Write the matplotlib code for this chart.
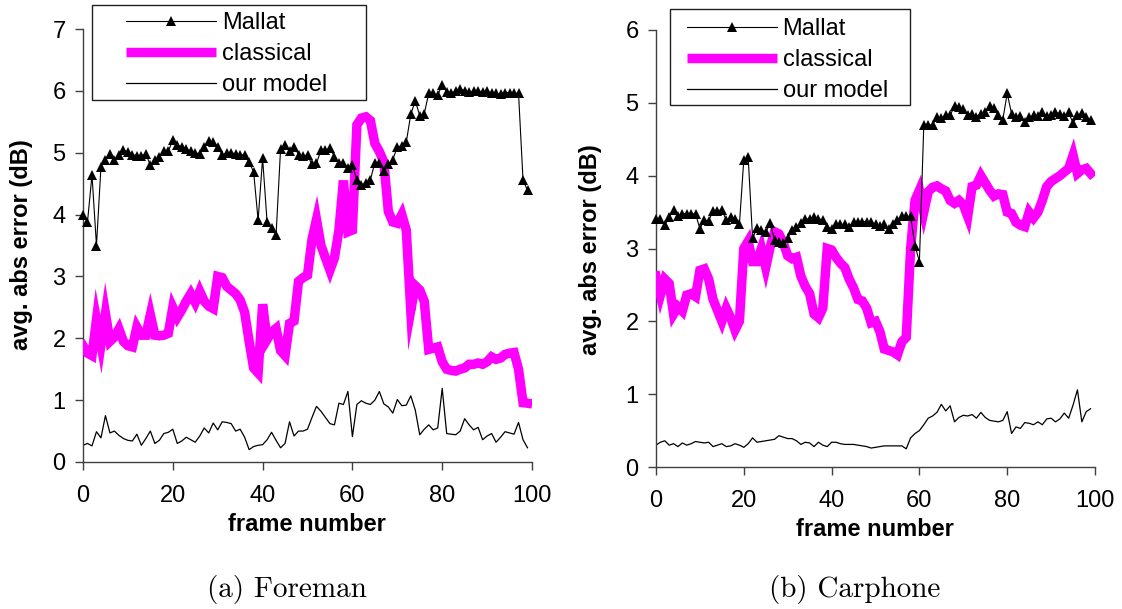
import matplotlib
matplotlib.use("Agg")
import matplotlib.pyplot as plt
from matplotlib.patches import Rectangle
from matplotlib.lines import Line2D

plt.rcParams['font.family'] = ['Liberation Sans', 'DejaVu Sans']

frames = list(range(100))

# ---------------- (a) Foreman ----------------
foreman_mallat = [
    4.0, 3.88, 4.64, 3.5, 4.77, 4.88, 4.98, 4.89, 4.96, 5.04,
    5.01, 4.97, 4.95, 4.95, 4.98, 4.8, 4.88, 4.93, 5.03, 5.02,
    5.21, 5.12, 5.1, 5.06, 5.02, 5.0, 4.98, 5.1, 5.19, 5.17,
    5.1, 4.96, 5.0, 5.0, 4.98, 4.96, 4.97, 4.85, 4.69, 3.91,
    4.91, 3.88, 3.78, 3.67, 5.06, 5.12, 5.02, 5.1, 4.97, 4.95,
    4.96, 4.81, 4.83, 5.04, 5.04, 5.08, 4.93, 4.83, 4.83, 4.76,
    4.8, 4.56, 4.48, 4.51, 4.56, 4.84, 4.84, 4.71, 4.81, 4.89,
    5.09, 5.11, 5.17, 5.62, 5.84, 5.6, 5.63, 5.96, 5.96, 5.93,
    6.1, 5.98, 5.96, 6.0, 6.03, 6.0, 5.98, 5.99, 6.0, 5.98,
    5.99, 5.97, 5.96, 5.95, 5.97, 5.97, 5.96, 5.96, 4.56, 4.39]
foreman_classical = [
    1.88, 1.76, 1.72, 2.3, 1.9, 2.4, 1.95, 2.02, 2.15, 1.95,
    1.88, 1.86, 2.18, 2.05, 2.05, 2.38, 2.05, 2.04, 2.05, 2.08,
    2.5, 2.34, 2.46, 2.6, 2.72, 2.58, 2.76, 2.6, 2.52, 2.48,
    3.0, 2.98, 2.84, 2.78, 2.72, 2.62, 2.42, 1.95, 1.52, 1.44,
    2.55, 1.98, 2.1, 2.16, 1.8, 1.72, 2.24, 2.28, 2.92, 2.98,
    3.02, 3.6, 3.92, 3.5, 3.3, 3.1, 3.3, 3.75, 4.55, 3.72,
    3.75, 5.45, 5.56, 5.58, 5.52, 5.15, 5.02, 4.85, 4.05, 3.88,
    3.86, 4.0, 3.75, 2.45, 2.85, 2.78, 2.6, 1.82, 1.84, 1.86,
    1.62, 1.5, 1.48, 1.47, 1.5, 1.52, 1.58, 1.58, 1.6, 1.58,
    1.62, 1.7, 1.66, 1.68, 1.74, 1.76, 1.77, 1.5, 0.96, 0.95]
foreman_ours = [
    0.27, 0.3, 0.26, 0.49, 0.39, 0.75, 0.47, 0.5, 0.43, 0.38,
    0.35, 0.34, 0.45, 0.27, 0.38, 0.5, 0.3, 0.35, 0.46, 0.48,
    0.53, 0.3, 0.34, 0.4, 0.36, 0.32, 0.42, 0.55, 0.47, 0.63,
    0.52, 0.65, 0.64, 0.62, 0.5, 0.53, 0.4, 0.2, 0.25, 0.27,
    0.28, 0.36, 0.48, 0.35, 0.23, 0.3, 0.65, 0.42, 0.5, 0.5,
    0.53, 0.72, 0.9, 0.82, 0.72, 0.62, 0.6, 0.95, 0.93, 1.14,
    0.41, 0.93, 0.99, 0.95, 0.93, 1.0, 1.14, 0.94, 0.89, 0.79,
    1.01, 0.91, 0.92, 1.07, 0.84, 0.44, 0.53, 0.6, 0.52, 0.55,
    1.19, 0.46, 0.45, 0.44, 0.5, 0.7, 0.6, 0.52, 0.56, 0.36,
    0.42, 0.46, 0.32, 0.4, 0.49, 0.47, 0.45, 0.64, 0.36, 0.23]

# ---------------- (b) Carphone ----------------
carphone_mallat = [
    3.41, 3.41, 3.32, 3.43, 3.53, 3.44, 3.48, 3.48, 3.47, 3.48,
    3.27, 3.39, 3.38, 3.52, 3.52, 3.53, 3.39, 3.43, 3.41, 3.33,
    4.22, 4.25, 3.14, 3.28, 3.26, 3.22, 3.35, 3.12, 3.09, 3.08,
    3.14, 3.26, 3.3, 3.35, 3.4, 3.41, 3.43, 3.41, 3.39, 3.3,
    3.27, 3.33, 3.33, 3.33, 3.3, 3.37, 3.37, 3.37, 3.37, 3.36,
    3.33, 3.31, 3.33, 3.27, 3.34, 3.39, 3.44, 3.44, 3.44, 3.04,
    2.82, 4.69, 4.69, 4.7, 4.8, 4.79, 4.83, 4.83, 4.95, 4.94,
    4.91, 4.83, 4.85, 4.81, 4.85, 4.87, 4.95, 4.93, 4.83, 4.77,
    5.13, 4.85, 4.8, 4.82, 4.74, 4.8, 4.83, 4.82, 4.87, 4.82,
    4.83, 4.87, 4.85, 4.82, 4.87, 4.72, 4.83, 4.86, 4.81, 4.76]
carphone_classical = [
    2.62, 2.36, 2.58, 2.52, 2.1, 2.2, 2.14, 2.36, 2.38, 2.34,
    2.7, 2.72, 2.58, 2.3, 2.15, 2.0, 2.18, 2.05, 1.88, 2.0,
    3.0, 3.1, 2.82, 2.82, 3.0, 2.74, 3.02, 3.23, 3.2, 3.08,
    2.9, 2.86, 2.88, 2.62, 2.48, 2.38, 2.1, 2.05, 2.18, 3.0,
    2.98, 2.88, 2.8, 2.74, 2.58, 2.46, 2.3, 2.28, 2.18, 1.98,
    2.0, 1.86, 1.62, 1.6, 1.58, 1.54, 1.72, 1.78, 3.0, 3.66,
    3.8, 3.5, 3.78, 3.84, 3.86, 3.82, 3.79, 3.66, 3.62, 3.66,
    3.6, 3.44, 3.85, 3.87, 4.0, 3.9, 3.8, 3.72, 3.75, 3.74,
    3.5, 3.48, 3.36, 3.32, 3.3, 3.5, 3.42, 3.5, 3.66, 3.85,
    3.92, 3.96, 4.0, 4.05, 4.1, 4.28, 4.03, 4.08, 4.1, 4.03]
carphone_ours = [
    0.3, 0.34, 0.36, 0.3, 0.32, 0.28, 0.33, 0.3, 0.32, 0.35,
    0.34, 0.33, 0.34, 0.28, 0.3, 0.32, 0.28, 0.29, 0.32, 0.3,
    0.27, 0.32, 0.4, 0.34, 0.35, 0.36, 0.37, 0.38, 0.43, 0.41,
    0.39, 0.39, 0.36, 0.31, 0.34, 0.33, 0.28, 0.34, 0.3, 0.28,
    0.34, 0.34, 0.32, 0.31, 0.31, 0.31, 0.3, 0.29, 0.28, 0.26,
    0.27, 0.28, 0.29, 0.29, 0.29, 0.29, 0.29, 0.25, 0.4, 0.46,
    0.5, 0.58, 0.67, 0.7, 0.75, 0.86, 0.77, 0.84, 0.62, 0.68,
    0.71, 0.7, 0.72, 0.67, 0.75, 0.68, 0.64, 0.63, 0.62, 0.64,
    0.76, 0.46, 0.55, 0.53, 0.61, 0.6, 0.58, 0.62, 0.58, 0.66,
    0.67, 0.62, 0.66, 0.74, 0.67, 0.85, 1.06, 0.62, 0.76, 0.8]

series_labels = ["Mallat", "classical", "our model"]
xticks = [0, 20, 40, 60, 80, 100]
yticks_a = [0, 1, 2, 3, 4, 5, 6, 7]
yticks_b = [0, 1, 2, 3, 4, 5, 6]
xlabel = "frame number"
ylabel = "avg. abs error (dB)"
captions = ["(a) Foreman", "(b) Carphone"]

W, H = 1122, 609
fig = plt.figure(figsize=(W / 100, H / 100), dpi=100)


def fx(px):
    return px / W


def fy(py):
    return 1 - py / H


MAG = '#FF00FF'
SPINE = '#404040'
FS = 17


def make_panel(box, mallat, classical, ours, ylim, yticks, legend_rect, legend_anchor,
               ylab_pos, xlab_pos, caption, cap_x):
    l, t, r, b = box
    ax = fig.add_axes([fx(l), fy(b), fx(r) - fx(l), fy(t) - fy(b)])
    ax.plot(frames, ours, color='black', lw=0.9, zorder=2)
    ax.plot(frames, classical, color=MAG, lw=6.8, solid_joinstyle='miter', zorder=3)
    ax.plot(frames, mallat, color='black', lw=0.8, marker='^', markersize=7.5,
            markeredgewidth=0, zorder=4, clip_on=False)
    ax.set_xlim(0, 100)
    ax.set_ylim(*ylim)
    ax.set_xticks(xticks)
    ax.set_yticks(yticks)
    for s in ['top', 'right']:
        ax.spines[s].set_visible(False)
    for s in ['left', 'bottom']:
        ax.spines[s].set_color(SPINE)
        ax.spines[s].set_linewidth(1.0)
    ax.tick_params(axis='both', direction='out', length=5.5, width=1.0, color=SPINE,
                   labelsize=FS)
    ax.tick_params(axis='x', pad=11)
    ax.tick_params(axis='y', pad=7)
    ax.set_xlabel(xlabel, fontsize=FS, fontweight='bold')
    ax.set_ylabel(ylabel, fontsize=FS, fontweight='bold')
    ax.xaxis.set_label_coords(fx(xlab_pos[0]), fy(xlab_pos[1]), transform=fig.transFigure)
    ax.xaxis.label.set_verticalalignment('baseline')
    ax.yaxis.set_label_coords(fx(ylab_pos[0]), fy(ylab_pos[1]), transform=fig.transFigure)
    ax.yaxis.label.set_verticalalignment('center')

    handles = [
        Line2D([], [], color='black', lw=0.8, marker='^', markersize=7.5, markeredgewidth=0),
        Line2D([], [], color=MAG, lw=6.8, solid_capstyle='butt'),
        Line2D([], [], color='black', lw=0.9),
    ]
    ax.legend(handles, series_labels, loc='upper left', bbox_to_anchor=legend_anchor,
              bbox_transform=fig.transFigure, frameon=False, fontsize=FS,
              handlelength=3.8, handletextpad=0.25, labelspacing=0.38,
              borderpad=0, borderaxespad=0)
    x0, y0, x1, y1 = legend_rect
    fig.patches.append(Rectangle((fx(x0), fy(y1)), fx(x1) - fx(x0), fy(y0) - fy(y1),
                                 transform=fig.transFigure, fill=False,
                                 edgecolor='#202020', lw=1.0, zorder=10))
    fig.text(fx(cap_x), fy(590), caption, ha='center', va='center', fontsize=21,
             family='cmr10')
    return ax


ax_a = make_panel((83, 29, 532, 462), foreman_mallat, foreman_classical, foreman_ours,
                  (0, 7), yticks_a, (92, 5, 366, 100), (fx(126), fy(12)),
                  (22, 245), (307, 531), captions[0], 287)
ax_b = make_panel((656, 30, 1095, 467), carphone_mallat, carphone_classical, carphone_ours,
                  (0, 6), yticks_b, (670, 9, 910, 105), (fx(687), fy(18)),
                  (590, 250), (875, 536), captions[1], 855)

fig.savefig("out.png", dpi=100)
